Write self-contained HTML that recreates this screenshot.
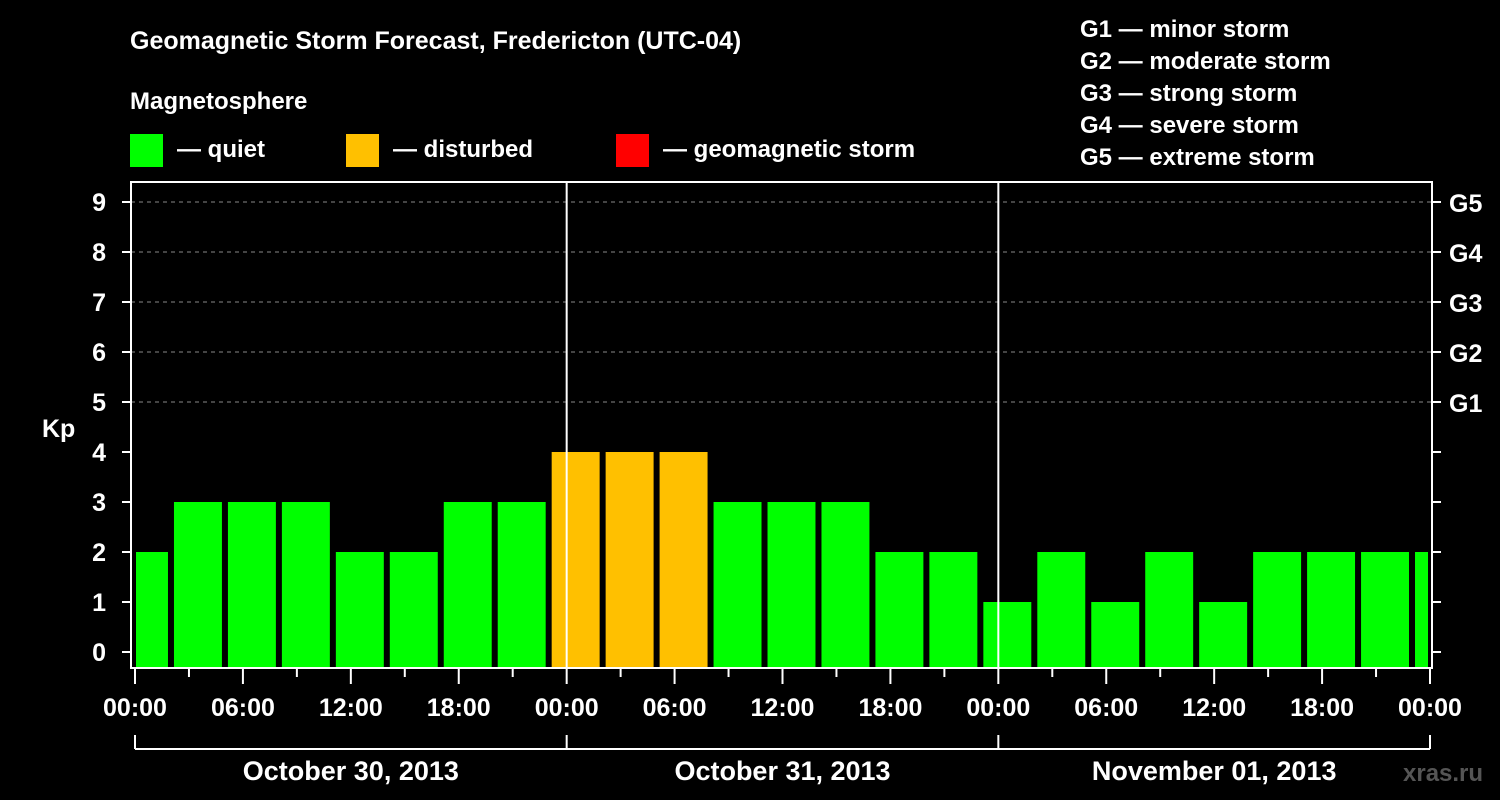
<!DOCTYPE html>
<html><head><meta charset="utf-8"><style>
html,body{margin:0;padding:0;background:#000;}
svg{display:block;font-family:"Liberation Sans",sans-serif;font-weight:bold;}
</style></head><body>
<svg id="c" width="1500" height="800">
<text x="130" y="49" fill="#fff" font-size="25">Geomagnetic Storm Forecast, Fredericton (UTC-04)</text>
<text x="130" y="109" fill="#fff" font-size="24">Magnetosphere</text>
<rect x="130" y="134" width="33" height="33" fill="#00ff00"/>
<text x="177" y="157" fill="#fff" font-size="24">— quiet</text>
<rect x="346" y="134" width="33" height="33" fill="#ffc000"/>
<text x="393" y="157" fill="#fff" font-size="24">— disturbed</text>
<rect x="616" y="134" width="33" height="33" fill="#ff0000"/>
<text x="663" y="157" fill="#fff" font-size="24">— geomagnetic storm</text>
<g fill="#fff" font-size="24">
<text x="1080" y="37">G1 — minor storm</text>
<text x="1080" y="69">G2 — moderate storm</text>
<text x="1080" y="101">G3 — strong storm</text>
<text x="1080" y="133">G4 — severe storm</text>
<text x="1080" y="165">G5 — extreme storm</text>
</g>
<text x="42" y="437" fill="#fff" font-size="25">Kp</text>
<text x="1403" y="781" fill="#555" font-size="24">xras.ru</text>
<g id="g"></g>
</svg>
<script>
const kpValues=[2,3,3,3,2,2,3,3,4,4,4,3,3,3,2,2,1,2,1,2,1,2,2,2,2];
const kpTicks=[0,1,2,3,4,5,6,7,8,9];
const gLabels=["G1","G2","G3","G4","G5"];
const gLevels=[5,6,7,8,9];
const timeLabels=["00:00","06:00","12:00","18:00"];
const dayLabels=["October 30, 2013","October 31, 2013","November 01, 2013"];
const firstSlotHour=-1;
const slotHours=3;

const NS="http://www.w3.org/2000/svg";
const g=document.getElementById('g');
const X0=135,X1=1430,PL=131,PR=1432,PT=182,PB=668;
const dayW=(X1-X0)/3;
const x=h=>X0+h*dayW/24;
const y=v=>652-v*50;
function mk(t,a,p){const e=document.createElementNS(NS,t);for(const k in a)e.setAttribute(k,a[k]);(p||g).appendChild(e);return e;}

// grid
gLevels.forEach(v=>{const l=mk('line',{x1:PL,x2:PR,y1:y(v),y2:y(v),stroke:'#888','stroke-dasharray':'4,4','stroke-width':1});

});
// bars
kpValues.forEach((v,i)=>{
 const h0=firstSlotHour+i*slotHours;
 let a=x(h0)+3,b=x(h0+slotHours)-3;
 a=Math.max(a,X0+1);b=Math.min(b,X1-2);
 const col=v>=5?'#ff0000':(v>=4?'#ffc000':'#00ff00');
 const r=mk('rect',{x:a,y:y(v),width:b-a,height:PB-1-y(v),fill:col});
 
 
});
// day separators
[1,2].forEach(d=>{const l=mk('line',{x1:x(24*d),x2:x(24*d),y1:PT,y2:PB,stroke:'#fff','stroke-width':2});

});
// frame
const f=mk('rect',{x:PL,y:PT,width:PR-PL,height:PB-PT,fill:'none',stroke:'#fff','stroke-width':2});


// y ticks
kpTicks.forEach(v=>{
 mk('line',{x1:PL-9,x2:PL,y1:y(v),y2:y(v),stroke:'#fff','stroke-width':2});
 mk('line',{x1:PR,x2:PR+9,y1:y(v),y2:y(v),stroke:'#fff','stroke-width':2});
 const t=mk('text',{x:106,y:y(v)+9,fill:'#fff','font-size':25,'text-anchor':'end'});t.textContent=v;
 
 
});
gLevels.forEach((v,i)=>{const t=mk('text',{x:1449,y:y(v)+10,fill:'#fff','font-size':25});t.textContent=gLabels[i];
 
 });
// x ticks
for(let h=0;h<=72;h+=3){
 const major=h%6===0;
 mk('line',{x1:x(h),x2:x(h),y1:PB,y2:PB+(major?16:9),stroke:'#fff','stroke-width':2});
 if(major){const t=mk('text',{x:x(h),y:716,fill:'#fff','font-size':25,'text-anchor':'middle'});
  t.textContent=h===72?"00:00":timeLabels[(h%24)/6];
  
  }
}
// day brackets
mk('line',{x1:X0,x2:X1,y1:749,y2:749,stroke:'#fff','stroke-width':2});
for(let d=0;d<=3;d++)mk('line',{x1:x(24*d),x2:x(24*d),y1:735,y2:749,stroke:'#fff','stroke-width':2});
dayLabels.forEach((s,d)=>{const t=mk('text',{x:x(24*d+12),y:780,fill:'#fff','font-size':27,'text-anchor':'middle'});t.textContent=s;
 
 });
</script>
</body></html>
